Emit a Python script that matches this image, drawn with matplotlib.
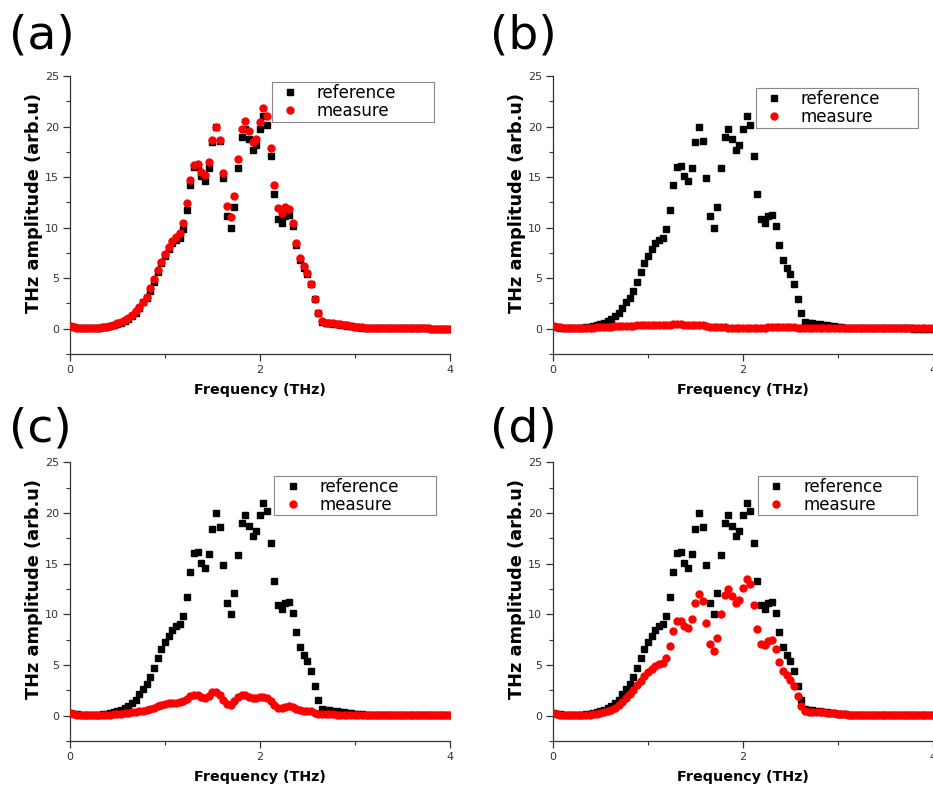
#THz spectra: reference vs measure, four samples
import numpy as np
import matplotlib
matplotlib.use('Agg')
import matplotlib.pyplot as plt
from matplotlib.ticker import MultipleLocator

#Data, frequency step in THz
DF = 4 / 104

reference = [0.30, 0.20, 0.12, 0.08, 0.05, 0.05, 0.06, 0.08, 0.10, 0.13,
             0.18, 0.25, 0.33, 0.45, 0.58, 0.76, 0.99, 1.28, 1.58, 2.10,
             2.63, 3.09, 3.78, 4.67, 5.66, 6.55, 7.24, 7.89, 8.49, 8.80,
             9.00, 9.84, 11.71, 14.20, 16.02, 16.12, 15.08, 14.57, 15.92, 18.45,
             19.98, 18.60, 14.88, 11.12, 9.98, 12.08, 15.88, 18.96, 19.76, 18.74,
             17.72, 18.18, 19.80, 21.02, 20.15, 17.08, 13.32, 10.90, 10.50, 11.15,
             11.25, 10.12, 8.30, 6.82, 6.03, 5.44, 4.42, 2.94, 1.52, 0.66,
             0.56, 0.52, 0.48, 0.44, 0.40, 0.35, 0.30, 0.24, 0.18, 0.14,
             0.12, 0.11, 0.10, 0.09, 0.08, 0.07, 0.07, 0.06, 0.06, 0.05,
             0.05, 0.05, 0.04, 0.04, 0.04, 0.03, 0.03, 0.03, 0.03, 0.02,
             0.02, 0.02, 0.02, 0.02, 0.02]

measure_a = [0.30, 0.20, 0.12, 0.08, 0.06, 0.06, 0.07, 0.09, 0.12, 0.16,
             0.22, 0.30, 0.40, 0.52, 0.66, 0.84, 1.08, 1.38, 1.72, 2.15,
             2.65, 3.15, 4.00, 4.90, 5.80, 6.60, 7.40, 8.10, 8.70, 9.10,
             9.45, 10.50, 12.40, 14.67, 16.20, 16.30, 15.50, 15.20, 16.50, 18.67,
             19.95, 18.70, 15.40, 12.10, 11.05, 13.10, 16.80, 19.80, 20.60, 19.60,
             18.50, 18.80, 20.50, 21.80, 21.00, 17.90, 14.25, 11.90, 11.50, 12.00,
             11.80, 10.50, 8.50, 7.00, 6.20, 5.50, 4.46, 2.95, 1.58, 0.72,
             0.60, 0.57, 0.53, 0.48, 0.44, 0.40, 0.34, 0.28, 0.22, 0.16,
             0.13, 0.12, 0.11, 0.10, 0.09, 0.07, 0.07, 0.06, 0.06, 0.05,
             0.05, 0.05, 0.04, 0.04, 0.04, 0.03, 0.03, 0.03, 0.03, 0.02,
             0.02, 0.02, 0.02, 0.02, 0.02]

measure_b = [0.30, 0.22, 0.14, 0.08, 0.05, 0.04, 0.04, 0.05, 0.06, 0.07,
             0.09, 0.11, 0.13, 0.15, 0.17, 0.19, 0.21, 0.23, 0.25, 0.27,
             0.29, 0.30, 0.31, 0.33, 0.34, 0.36, 0.37, 0.36, 0.34, 0.33,
             0.34, 0.37, 0.42, 0.46, 0.47, 0.45, 0.41, 0.37, 0.36, 0.37,
             0.38, 0.34, 0.27, 0.20, 0.16, 0.15, 0.14, 0.13, 0.12, 0.10,
             0.09, 0.08, 0.08, 0.08, 0.08, 0.09, 0.10, 0.11, 0.12, 0.13,
             0.13, 0.13, 0.14, 0.15, 0.15, 0.15, 0.14, 0.12, 0.11, 0.10,
             0.09, 0.08, 0.08, 0.07, 0.07, 0.07, 0.06, 0.06, 0.06, 0.05,
             0.05, 0.05, 0.05, 0.04, 0.04, 0.04, 0.04, 0.04, 0.03, 0.03,
             0.03, 0.03, 0.03, 0.03, 0.03, 0.03, 0.03, 0.03, 0.03, 0.03,
             0.03, 0.03, 0.03, 0.03, 0.03]

measure_c = [0.25, 0.18, 0.10, 0.05, 0.03, 0.03, 0.03, 0.04, 0.05, 0.07,
             0.09, 0.11, 0.14, 0.17, 0.20, 0.24, 0.28, 0.32, 0.37, 0.43,
             0.50, 0.58, 0.68, 0.80, 0.95, 1.08, 1.17, 1.22, 1.24, 1.25,
             1.30, 1.45, 1.68, 1.92, 2.08, 2.00, 1.82, 1.78, 1.98, 2.30,
             2.38, 2.05, 1.50, 1.12, 1.05, 1.40, 1.82, 2.02, 2.00, 1.85,
             1.72, 1.75, 1.85, 1.85, 1.70, 1.40, 1.05, 0.80, 0.72, 0.85,
             0.92, 0.82, 0.65, 0.55, 0.50, 0.48, 0.42, 0.30, 0.20, 0.15,
             0.14, 0.13, 0.12, 0.11, 0.10, 0.09, 0.08, 0.07, 0.06, 0.06,
             0.05, 0.05, 0.05, 0.04, 0.04, 0.04, 0.04, 0.04, 0.03, 0.03,
             0.03, 0.03, 0.03, 0.03, 0.03, 0.03, 0.03, 0.03, 0.03, 0.03,
             0.03, 0.03, 0.03, 0.03, 0.03]

measure_d = [0.22, 0.14, 0.08, 0.04, 0.03, 0.03, 0.03, 0.04, 0.05, 0.07,
             0.10, 0.14, 0.19, 0.26, 0.35, 0.45, 0.60, 0.80, 1.05, 1.35,
             1.70, 2.10, 2.55, 3.00, 3.45, 3.90, 4.30, 4.65, 4.90, 5.05,
             5.20, 5.70, 6.85, 8.33, 9.30, 9.38, 8.82, 8.66, 9.54, 11.08,
             12.03, 11.34, 9.18, 7.08, 6.33, 7.67, 10.03, 11.93, 12.50, 11.80,
             11.10, 11.44, 12.60, 13.48, 12.98, 10.95, 8.52, 7.08, 6.92, 7.41,
             7.48, 6.62, 5.34, 4.36, 3.97, 3.48, 2.92, 1.90, 0.98, 0.46,
             0.40, 0.38, 0.36, 0.34, 0.32, 0.29, 0.26, 0.22, 0.18, 0.14,
             0.12, 0.10, 0.09, 0.08, 0.07, 0.06, 0.06, 0.05, 0.05, 0.05,
             0.04, 0.04, 0.04, 0.04, 0.03, 0.03, 0.03, 0.03, 0.03, 0.03,
             0.03, 0.03, 0.03, 0.03, 0.03]

panel_labels = ['(a)', '(b)', '(c)', '(d)']
measures = [measure_a, measure_b, measure_c, measure_d]

#Layout
fig = plt.figure(figsize=(9.33, 7.92), dpi=100)
boxes = [[0.075, 0.553, 0.407, 0.351],
         [0.5927, 0.553, 0.407, 0.351],
         [0.075, 0.0644, 0.407, 0.352],
         [0.5927, 0.0644, 0.407, 0.352]]
# panel letter baseline positions (figure fraction)
label_pos = [(0.010, 0.939), (0.525, 0.939), (0.010, 0.443), (0.525, 0.443)]
# legend boxes in axes fraction: left, right, top
legend_box = [(0.532, 0.958, 0.977), (0.534, 0.961, 0.956),
              (0.538, 0.964, 0.950), (0.540, 0.958, 0.951)]

for i in range(4):
    ax = fig.add_axes(boxes[i])
    ref = np.array(reference)
    mea = np.array(measures[i])
    ax.plot(np.arange(len(ref)) * DF, ref, ls='none', marker='s', ms=4.4,
            color='black', label='reference', zorder=2)
    ax.plot(np.arange(len(mea)) * DF, mea, ls='none', marker='o', ms=5.0,
            color='red', mec='red', label='measure', zorder=3)

    ax.set_xlim(0, 4)
    ax.set_ylim(-2.5, 25)
    ax.xaxis.set_major_locator(MultipleLocator(2))
    ax.xaxis.set_minor_locator(MultipleLocator(1))
    ax.yaxis.set_major_locator(MultipleLocator(5))
    ax.yaxis.set_minor_locator(MultipleLocator(2.5))
    ax.spines['top'].set_visible(False)
    ax.spines['right'].set_visible(False)
    for s in ['left', 'bottom']:
        ax.spines[s].set_linewidth(0.9)
        ax.spines[s].set_color('#333333')
    ax.tick_params(which='major', direction='out', length=5, width=0.9,
                   labelsize=8, colors='#333333', pad=3)
    ax.tick_params(which='minor', direction='out', length=3, width=0.8,
                   colors='#333333')

    ax.set_xlabel('Frequency (THz)', fontsize=10.3, fontweight='bold')
    ax.set_ylabel('THz amplitude (arb.u)', fontsize=12.8, fontweight='bold')
    ax.xaxis.set_label_coords(0.5, -0.105)
    ax.yaxis.set_label_coords(-0.071, 0.545)

    l, r, t = legend_box[i]
    leg = ax.legend(loc='upper left', bbox_to_anchor=(l, t - 0.13, r - l, 0.13),
                    mode='expand', borderaxespad=0, fontsize=12, frameon=True,
                    fancybox=False, framealpha=1, edgecolor='#888888',
                    handletextpad=0.6, labelspacing=0.0, borderpad=0.1,
                    handlelength=2.0)
    leg.get_frame().set_linewidth(0.8)

    fig.text(label_pos[i][0], label_pos[i][1], panel_labels[i],
             fontsize=34, va='baseline', ha='left')

fig.savefig('out.png', dpi=100)
